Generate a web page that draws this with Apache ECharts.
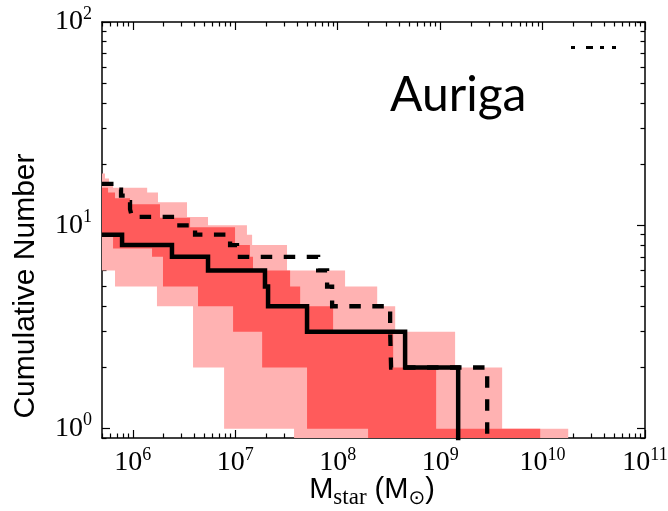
<!DOCTYPE html>
<html><head><meta charset="utf-8">
<script src="https://cdn.jsdelivr.net/npm/echarts@6/dist/echarts.min.js"></script>
<style>html,body{margin:0;padding:0;background:#fff}#c{width:668px;height:511px}</style>
</head><body><div id="c"></div>
<script>
// ---- data ----
const xMajorTicks = [1e6, 1e7, 1e8, 1e9, 1e10, 1e11];
const yMajorTicks = [1, 10, 100];

// solid black cumulative step line
const solidEdges  = [5e5, 7.85e5, 2.41e6, 5.42e6, 1.95e7, 2.09e7, 5.02e7, 4.55e8, 1.50e9];
const solidCounts = [9, 8, 7, 6, 5, 4, 3, 2];
// dashed black cumulative step line
const dashedEdges  = [5e5, 7.33e5, 7.67e5, 8.39e5, 9.39e5, 9.82e5, 2.41e6, 4.05e6, 8.90e6, 1.04e7, 6.44e7, 7.88e7, 8.82e7, 3.25e8, 3.32e8, 2.88e9];
const dashedCounts = [16, 15, 14, 13, 12, 11, 10, 9, 8, 7, 6, 5, 4, 3, 2];
// outer (light) band
const outerUpperEdges  = [5e5, 5.35e5, 5.86e5, 6.41e5, 1.38e6, 1.76e6, 3.38e6, 5.42e6, 1.30e7, 1.46e7, 3.20e7, 1.18e8, 2.43e8, 3.64e8, 1.40e9, 4.03e9, 1.78e10];
const outerUpperCounts = [18, 17, 16, 15.3, 14.5, 13, 11, 10, 9, 8, 6, 5, 4, 3, 2, 1];
const outerLowerEdges  = [5e5, 6.70e5, 1.72e6, 3.87e6, 7.78e6, 3.75e7, 1.78e10];
const outerLowerCounts = [6, 5, 4, 2, 1, 0];
// inner (dark) band
const innerUpperEdges  = [5e5, 5.73e5, 6.70e5, 9.39e5, 1.84e6, 3.62e6, 9.95e6, 1.39e7, 1.49e7, 3.43e7, 4.30e7, 9.02e7, 3.48e8, 9.14e8, 9.48e9];
const innerUpperCounts = [15.3, 14.5, 13.6, 12.7, 10.9, 9.8, 8, 7, 6, 5, 4, 3, 2, 1];
const innerLowerEdges  = [5e5, 6.41e5, 1.54e6, 1.97e6, 4.33e6, 9.52e6, 1.83e7, 5.02e7, 1.98e8, 9.48e9];
const innerLowerCounts = [9, 7.7, 7, 5, 4, 3, 2, 1, 0];

// ---- helpers ----
const X_MIN = 5e5, X_MAX = 1e11, Y_MIN = 0.9, Y_MAX = 100;
const FLOOR = 0.5; // below the axis minimum; used for zero counts (clipped)
function stepPoints(edges, counts) {
  const pts = [];
  for (let i = 0; i < counts.length; i++) {
    const v = counts[i] > 0 ? counts[i] : FLOOR;
    pts.push([edges[i], v], [edges[i + 1], v]);
  }
  return pts;
}
function linePoints(edges, counts) {
  const pts = stepPoints(edges, counts);
  pts.push([edges[edges.length - 1], FLOOR]);
  return pts;
}
function minorTicks(lo, hi) {
  const out = [];
  for (let d = -1; d <= 11; d++) for (let k = 2; k <= 9; k++) {
    const v = k * Math.pow(10, d);
    if (v >= lo && v <= hi) out.push(v);
  }
  return out;
}
const xMinor = minorTicks(X_MIN, X_MAX);
const yMinor = minorTicks(Y_MIN, Y_MAX);

function bandSeries(upE, upC, loE, loC, color) {
  const up = stepPoints(upE, upC);
  const lo = stepPoints(loE, loC).reverse();
  const poly = up.concat(lo);
  return {
    type: 'custom', clip: true, silent: true,
    data: [[1e6, 1]], encode: {x: 0, y: 1},
    renderItem: (params, api) => ({
      type: 'polygon',
      shape: {points: poly.map(p => api.coord(p))},
      style: {fill: color, stroke: null}
    })
  };
}

const labelRich = {
  b: {fontFamily: 'Liberation Serif', fontSize: 28, lineHeight: 34, color: '#000'},
  s: {fontFamily: 'Liberation Serif', fontSize: 18, lineHeight: 22, verticalAlign: 'top', color: '#000'}
};
const fmt = v => '{b|10}{s|' + Math.round(Math.log10(v)) + '}';
const lineStyleAx = {color: '#000', width: 1.5};

function xAx(pos, major, show) {
  return {
    type: 'log', position: pos, min: X_MIN, max: X_MAX, logBase: 10,
    axisLine: {show: major, lineStyle: lineStyleAx},
    axisTick: {show: true, inside: true, length: major ? 8 : 4.5, customValues: major ? xMajorTicks : xMinor, lineStyle: {color: '#000', width: 1.2}},
    axisLabel: show ? {show: true, customValues: xMajorTicks, formatter: fmt, rich: labelRich, margin: 8} : {show: false},
    splitLine: {show: false}, minorTick: {show: false}
  };
}
function yAx(pos, major, show) {
  return {
    type: 'log', position: pos, min: Y_MIN, max: Y_MAX, logBase: 10,
    axisLine: {show: major, lineStyle: lineStyleAx},
    axisTick: {show: true, inside: true, length: major ? 8 : 4.5, customValues: major ? yMajorTicks : yMinor, lineStyle: {color: '#000', width: 1.2}},
    axisLabel: show ? {show: true, customValues: yMajorTicks, formatter: fmt, rich: labelRich, margin: 10} : {show: false},
    splitLine: {show: false}, minorTick: {show: false}
  };
}

const chart = echarts.init(document.getElementById('c'), null, {renderer: 'canvas'});
chart.setOption({
  animation: false,
  backgroundColor: '#fff',
  grid: {left: 102, right: 23, top: 22, bottom: 73, containLabel: false, outerBoundsMode: 'none'},
  xAxis: [xAx('bottom', true, true), xAx('bottom', false, false), xAx('top', true, false), xAx('top', false, false)],
  yAxis: [yAx('left', true, true), yAx('left', false, false), yAx('right', true, false), yAx('right', false, false)],
  series: [
    bandSeries(outerUpperEdges, outerUpperCounts, outerLowerEdges, outerLowerCounts, '#ffb2b2'),
    bandSeries(innerUpperEdges, innerUpperCounts, innerLowerEdges, innerLowerCounts, '#ff5b5b'),
    {type: 'line', data: linePoints(dashedEdges, dashedCounts), showSymbol: false, clip: true,
     lineStyle: {color: '#000', width: 4.3, type: [11.5, 11.5], cap: 'butt', join: 'miter'}},
    {type: 'line', data: linePoints(solidEdges, solidCounts), showSymbol: false, clip: true,
     lineStyle: {color: '#000', width: 4.5, join: 'miter'}}
  ],
  graphic: [
    {type: 'text', left: 390, top: 72, style: {text: 'Auriga', font: '48px Lato', fill: '#000'}},
    {type: 'text', x: 26, y: 286, rotation: Math.PI / 2,
     style: {text: 'Cumulative Number', font: '30px "Liberation Sans"', fill: '#000', align: 'center', verticalAlign: 'middle'}},
    {type: 'text', x: 372, y: 475, style: {
      text: '{m|M}{sub|star}{m| (M}{o|⊙}{m|)}', align: 'center', verticalAlign: 'top',
      rich: {
        m: {font: '29px "Liberation Sans"', fill: '#000', lineHeight: 34, verticalAlign: 'top'},
        sub: {font: '23px "Liberation Serif"', fill: '#000', lineHeight: 24, verticalAlign: 'bottom'},
        o: {font: '20px "DejaVu Sans"', fill: '#000', lineHeight: 22, verticalAlign: 'bottom'}
      }}},
    {type: 'group', children: [
      {type: 'rect', shape: {x: 571, y: 46, width: 4, height: 3}, style: {fill: '#000'}},
      {type: 'rect', shape: {x: 586, y: 46, width: 7, height: 3}, style: {fill: '#000'}},
      {type: 'rect', shape: {x: 600, y: 46, width: 4, height: 3}, style: {fill: '#000'}},
      {type: 'rect', shape: {x: 612, y: 46, width: 4, height: 3}, style: {fill: '#000'}}
    ]}
  ]
});
</script></body></html>
